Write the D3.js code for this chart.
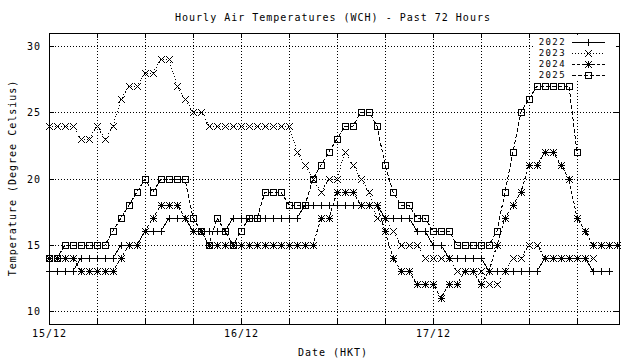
<!DOCTYPE html>
<html><head><meta charset="utf-8">
<script src="https://cdn.jsdelivr.net/npm/d3@7"></script>
<style>
body{margin:0;background:#fff}
svg{display:block}
text{font-family:"DejaVu Sans Mono",monospace;font-size:10px;letter-spacing:1px;fill:#000}
text.lg{font-size:9px;letter-spacing:1.4px}
</style>
</head><body>
<svg id="c" width="640" height="360"></svg>
<script>
// ---- data (hour offset from 15/12 00:00 HKT) ----
const hours = d3.range(72);
const seriesNames = ["2022","2023","2024","2025"];
const t2022 = [13,13,13,13,14,14,14,14,14,15,15,15,16,16,16,17,17,17,16,16,16,16,16,17,
               17,17,17,17,17,17,17,17,18,18,18,18,18,18,18,18,18,18,17,17,17,17,16,16,
               15,15,14,14,14,14,14,13,13,13,13,13,13,13,14,14,14,14,14,14,13,13,13];
const t2023 = [24,24,24,24,23,23,24,23,24,26,27,27,28,28,29,29,27,26,25,25,24,24,24,24,
               24,24,24,24,24,24,24,22,21,20,19,20,20,22,21,20,19,17,17,16,15,15,15,14,
               14,14,14,13,13,13,13,12,12,13,14,14,15,15,14,14,14,14,14,14,14,null,null,null];
const t2024 = [14,14,14,14,13,13,13,13,13,14,15,15,16,17,18,18,18,17,16,16,15,15,15,15,
               15,15,15,15,15,15,15,15,15,15,17,17,19,19,19,18,18,18,16,14,13,13,12,12,
               12,11,12,12,13,13,12,13,15,17,18,19,21,21,22,22,21,20,17,16,15,15,15,15];
const t2025 = [14,14,15,15,15,15,15,15,16,17,18,19,20,19,20,20,20,20,17,16,15,17,16,15,
               16,17,17,19,19,19,18,18,18,20,21,22,23,24,24,25,25,24,21,19,18,18,17,17,
               16,16,16,15,15,15,15,15,16,19,22,25,26,27,27,27,27,27,22,null,null,null,null,null];
const yTicks = [10,15,20,25,30];
const xGridHours = d3.range(0,72,6);
const xLabelHours = [0,24,48];
const xLabels = ["15/12","16/12","17/12"];
const titleText = "Hourly Air Temperatures (WCH) - Past 72 Hours";
const xTitle = "Date (HKT)";
const yTitle = "Temperature (Degree Celsius)";

const seriesData = [t2022,t2023,t2024,t2025];
const dashes = [null,"1,2","3,2","4,2"];
const markers = ["plus","cross","star","square"];

const svg = d3.select("#c");
const L=49,R=619,T=33,B=324;
const x = d3.scaleLinear().domain([0,71.25]).range([L,R]);
const y = d3.scaleLinear().domain([9,31]).range([B,T]);

svg.append("rect").attr("width",640).attr("height",360).attr("fill","#fff");

// grid
const g = svg.append("g").attr("shape-rendering","crispEdges");
yTicks.forEach(v=>{
  const yy=Math.round(y(v))+0.5;
  g.append("line").attr("x1",L).attr("x2",R).attr("y1",yy).attr("y2",yy)
   .attr("stroke","#000").attr("stroke-dasharray","1,2");
  g.append("line").attr("x1",L).attr("x2",L+5).attr("y1",yy).attr("y2",yy).attr("stroke","#000");
  g.append("line").attr("x1",R-5).attr("x2",R).attr("y1",yy).attr("y2",yy).attr("stroke","#000");
  svg.append("text").attr("x",L-8).attr("y",yy).attr("dy","0.35em").attr("text-anchor","end").text(v);
});
xGridHours.forEach(h=>{
  const xx=Math.round(x(h))+0.5;
  if(h>0) g.append("line").attr("x1",xx).attr("x2",xx).attr("y1",T).attr("y2",B)
   .attr("stroke","#000").attr("stroke-dasharray","1,2");
  g.append("line").attr("x1",xx).attr("x2",xx).attr("y1",B-5).attr("y2",B).attr("stroke","#000");
  g.append("line").attr("x1",xx).attr("x2",xx).attr("y1",T).attr("y2",T+5).attr("stroke","#000");
});
xLabelHours.forEach((h,i)=>{
  svg.append("text").attr("x",x(h)+0.5).attr("y",337).attr("text-anchor","middle").text(xLabels[i]);
});
// legend background (key box hides grid)
svg.append("rect").attr("x",533).attr("y",35).attr("width",83).attr("height",46).attr("fill","#fff");
// border
svg.append("rect").attr("x",L+0.5).attr("y",T+0.5).attr("width",R-L).attr("height",B-T)
 .attr("fill","none").attr("stroke","#000").attr("shape-rendering","crispEdges");

// titles
svg.append("text").attr("x",333).attr("y",21).attr("text-anchor","middle").text(titleText);
svg.append("text").attr("x",333).attr("y",356).attr("text-anchor","middle").text(xTitle);
svg.append("text").attr("transform","translate(16,178) rotate(-90)").attr("text-anchor","middle").text(yTitle);

function drawMarker(sel,type,cx,cy){
  const s=3;
  const p=sel.append("g").attr("stroke","#000").attr("fill","none").attr("shape-rendering","crispEdges");
  if(type==="plus"||type==="star"){
    p.append("line").attr("x1",cx-s).attr("x2",cx+s+1).attr("y1",cy+0.5).attr("y2",cy+0.5);
    p.append("line").attr("x1",cx+0.5).attr("x2",cx+0.5).attr("y1",cy-s).attr("y2",cy+s+1);
  }
  if(type==="cross"||type==="star"){
    p.append("line").attr("x1",cx-s).attr("x2",cx+s+1).attr("y1",cy-s).attr("y2",cy+s+1);
    p.append("line").attr("x1",cx-s).attr("x2",cx+s+1).attr("y1",cy+s+1).attr("y2",cy-s);
  }
  if(type==="square"){
    p.append("rect").attr("x",cx-s+0.5).attr("y",cy-s+0.5).attr("width",2*s).attr("height",2*s);
  }
}

const line = d3.line().defined(d=>d[1]!=null).x(d=>Math.round(x(d[0]))).y(d=>Math.round(y(d[1])));
seriesData.forEach((arr,i)=>{
  const pts = hours.map(h=>[h,arr[h]]);
  svg.append("path").attr("d",line(pts)).attr("fill","none").attr("stroke","#000")
    .attr("stroke-width",1).attr("shape-rendering","crispEdges")
    .attr("stroke-dasharray",dashes[i]);
  const mg=svg.append("g");
  pts.filter(d=>d[1]!=null).forEach(d=>drawMarker(mg,markers[i],Math.round(x(d[0])),Math.round(y(d[1]))));
});

// legend
const lg = svg.append("g");
seriesNames.forEach((n,i)=>{
  const yy = 42 + i*11;
  lg.append("text").attr("class","lg").attr("x",566).attr("y",yy).attr("dy","0.35em").attr("text-anchor","end").text(n);
  lg.append("line").attr("x1",572).attr("x2",605).attr("y1",yy+0.5).attr("y2",yy+0.5)
    .attr("stroke","#000").attr("shape-rendering","crispEdges").attr("stroke-dasharray",dashes[i]);
  drawMarker(lg,markers[i],588,yy);
});
</script>
</body></html>
